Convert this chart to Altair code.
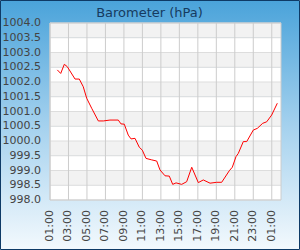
import altair as alt
import pandas as pd

# hours after 01:00 (first day) and barometric pressure in hPa
hours = [0.79, 1.16, 1.55, 1.87, 2.71, 3.17, 3.60, 3.97, 4.51, 5.23, 5.77, 6.49,
         7.39, 7.68, 8.04, 8.47, 8.77, 9.20, 9.66, 9.99, 10.39, 11.01, 11.55, 11.90,
         12.45, 12.91, 13.28, 13.64, 14.25, 14.79, 15.34, 16.05, 16.59, 17.32, 18.04,
         18.58, 19.40, 19.73, 20.13, 20.38, 20.92, 21.29, 22.00, 22.44, 23.02, 23.45,
         23.99, 24.60]
pressure = [1002.41, 1002.29, 1002.60, 1002.52, 1002.10, 1002.10, 1001.84, 1001.45,
            1001.11, 1000.68, 1000.68, 1000.71, 1000.71, 1000.58, 1000.57, 1000.20,
            1000.07, 1000.09, 999.79, 999.69, 999.41, 999.36, 999.32, 999.02, 998.82,
            998.81, 998.53, 998.58, 998.53, 998.62, 999.11, 998.59, 998.68, 998.57,
            998.60, 998.60, 998.99, 999.11, 999.47, 999.58, 999.98, 999.98, 1000.37,
            1000.43, 1000.60, 1000.65, 1000.88, 1001.28]
x_ticks = [0, 2, 4, 6, 8, 10, 12, 14, 16, 18, 20, 22, 24]
x_labels = ["01:00", "03:00", "05:00", "07:00", "09:00", "11:00", "13:00",
            "15:00", "17:00", "19:00", "21:00", "23:00", "01:00"]
y_ticks = [998.0, 998.5, 999.0, 999.5, 1000.0, 1000.5, 1001.0, 1001.5, 1002.0,
           1002.5, 1003.0, 1003.5, 1004.0]
title_text = "Barometer (hPa)"

df = pd.DataFrame({"h": hours, "p": pressure})
bands = pd.DataFrame({"y0": y_ticks[:-1], "y1": y_ticks[1:],
                      "k": [i % 2 for i in range(len(y_ticks) - 1)]})
ylab = pd.DataFrame({"y": y_ticks, "t": [f"{v:.1f}" for v in y_ticks]})
xlab = pd.DataFrame({"x": x_ticks, "t": x_labels})

W, H = 231, 177
xs = alt.Scale(domain=[0, 25], nice=False, zero=False)
ys = alt.Scale(domain=[998, 1004], nice=False, zero=False)
FONT = "DejaVu Sans"
LBL = "#444444"

bg = alt.Chart(alt.Data(values=[{"a": 1}])).mark_rect(
    fill=alt.LinearGradient(
        gradient="linear", x1=0, x2=0, y1=0, y2=1,
        stops=[alt.GradientStop(color="#4aa3da", offset=0),
               alt.GradientStop(color="#a4d1ee", offset=0.5),
               alt.GradientStop(color="#f3f9fd", offset=1)]),
    stroke="#0e3a66", strokeWidth=1
).encode(x=alt.value(-49.5), x2=alt.value(249.5), y=alt.value(-22.5), y2=alt.value(226.5))

title = alt.Chart(alt.Data(values=[{"t": title_text}])).mark_text(
    font=FONT, fontSize=13, color="#163b60", align="center", baseline="alphabetic"
).encode(text="t:N", x=alt.value(99.5), y=alt.value(-6))

band_layer = alt.Chart(bands).mark_rect().encode(
    x=alt.value(0), x2=alt.value(W),
    y=alt.Y("y0:Q", scale=ys, axis=None),
    y2="y1:Q",
    fill=alt.Fill("k:N", scale=alt.Scale(domain=[0, 1], range=["#ffffff", "#f2f2f2"]),
                  legend=None),
)

hg = alt.Chart(ylab).mark_rule(color="#dddddd", strokeWidth=1).encode(
    y=alt.Y("y:Q", scale=ys, axis=None), x=alt.value(0), x2=alt.value(W))
vg = alt.Chart(xlab).mark_rule(color="#cccccc", strokeWidth=1).encode(
    x=alt.X("x:Q", scale=xs, axis=None), y=alt.value(0), y2=alt.value(H))

outline = alt.Chart(alt.Data(values=[{"a": 1}])).mark_rect(
    fillOpacity=0, stroke="#cccccc", strokeWidth=1
).encode(x=alt.value(0), x2=alt.value(W), y=alt.value(0), y2=alt.value(H))

line = alt.Chart(df).mark_line(color="#ff0000", strokeWidth=1).encode(
    x=alt.X("h:Q", scale=xs, axis=None),
    y=alt.Y("p:Q", scale=ys, axis=None),
)

ytext = alt.Chart(ylab).mark_text(
    font=FONT, fontSize=11, color=LBL, align="right", baseline="middle"
).encode(y=alt.Y("y:Q", scale=ys, axis=None), x=alt.value(-9), text="t:N")

xtext = alt.Chart(xlab).mark_text(
    font=FONT, fontSize=11, color=LBL, align="right", baseline="middle", angle=270
).encode(x=alt.X("x:Q", scale=xs, axis=None), y=alt.value(H + 10), text="t:N")

chart = alt.layer(bg, band_layer, hg, vg, outline, line, ytext, xtext, title).properties(
    width=W, height=H,
    autosize=alt.AutoSizeParams(type="none"),
    padding={"left": 50, "top": 23, "right": 19, "bottom": 50},
).configure_view(stroke="transparent").configure(background="#ffffff")

chart.save("out.html", embed_options={"renderer": "svg", "actions": False})
